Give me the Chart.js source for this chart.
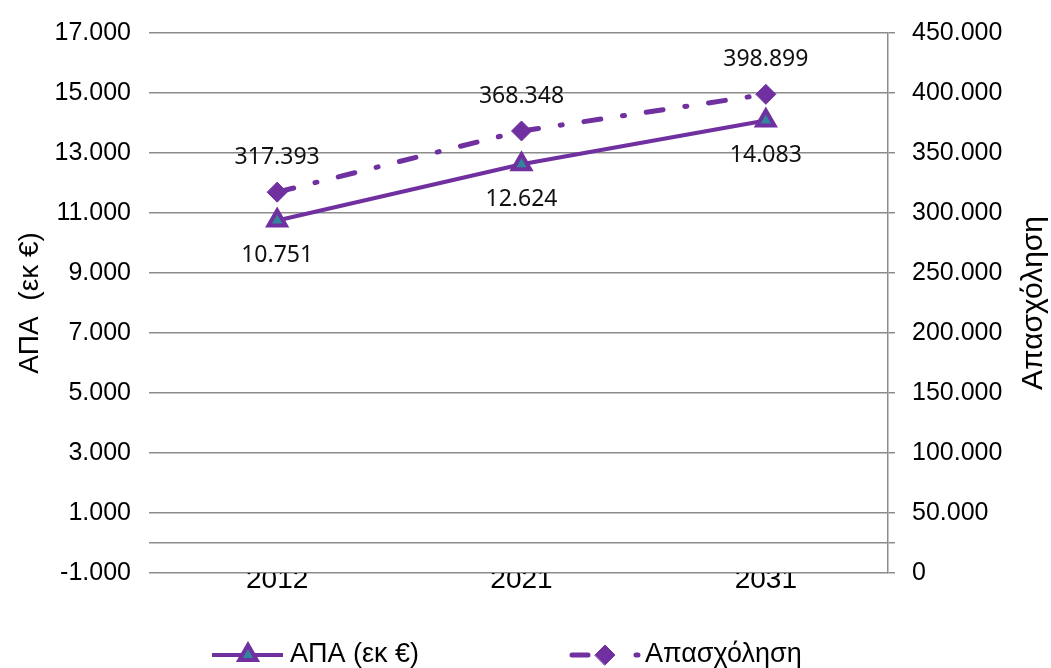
<!DOCTYPE html>
<html>
<head>
<meta charset="utf-8">
<script src="https://cdn.jsdelivr.net/npm/chart.js@4.4.1/dist/chart.umd.min.js"></script>
<style>
html, body { margin: 0; padding: 0; background: #fff; }
#wrap { width: 1051px; height: 668px; }
</style>
</head>
<body>
<div id="wrap"><canvas id="chart" width="1051" height="668"></canvas></div>
<script>
// Δεδομένα του διαγράμματος
const years = ['2012', '2021', '2031'];
const apaValues = [10751, 12624, 14083];
const employmentValues = [317393, 368348, 398899];

// Υποδιαιρέσεις αξόνων (το 0 στον αριστερό είναι η γραμμή του άξονα κατηγοριών)
const leftTicks = [-1000, 0, 1000, 3000, 5000, 7000, 9000, 11000, 13000, 15000, 17000];
const rightTicks = [0, 25000, 50000, 100000, 150000, 200000, 250000, 300000, 350000, 400000, 450000];
const rightTitle = 'Απασχόληση';

const purple = '#7030A0';
const teal = '#31859C';
const gridGray = '#8c8c8c';
const tickFont = { family: 'Liberation Sans', size: 25 };

// Μορφή αριθμών με τελεία ως διαχωριστικό χιλιάδων
function formatNumber(v) {
    const s = String(Math.abs(Math.round(v))).replace(/\B(?=(\d{3})+(?!\d))/g, '.');
    return v < 0 ? '-' + s : s;
}

// Ετικέτες τιμών πάνω/κάτω από τα σημεία
const valueLabels = {
    id: 'valueLabels',
    afterDatasetsDraw(chart) {
        const ctx = chart.ctx;
        ctx.save();
        ctx.font = '23px "Noto Sans"';
        ctx.fillStyle = '#111';
        ctx.textAlign = 'center';
        ctx.textBaseline = 'middle';
        chart.data.datasets.forEach((ds, i) => {
            const meta = chart.getDatasetMeta(i);
            const offset = i === 0 ? 35 : -35;
            meta.data.forEach((pt, j) => {
                ctx.fillText(formatNumber(ds.data[j]), pt.x, pt.y + offset);
            });
        });
        ctx.restore();
    }
};

// Τίτλος δεξιού άξονα, γραμμένος από κάτω προς τα πάνω
const rightAxisTitle = {
    id: 'rightAxisTitle',
    afterDraw(chart) {
        const ctx = chart.ctx;
        const area = chart.chartArea;
        ctx.save();
        ctx.translate(1034, (area.top + area.bottom) / 2);
        ctx.rotate(-Math.PI / 2);
        ctx.font = '30px "Liberation Sans"';
        ctx.fillStyle = '#000';
        ctx.textAlign = 'center';
        ctx.textBaseline = 'middle';
        ctx.fillText(rightTitle, 0, 0);
        ctx.restore();
    }
};

// Υπόμνημα στο κάτω μέρος
const bottomLegend = {
    id: 'bottomLegend',
    afterDraw(chart) {
        const ctx = chart.ctx;
        const y = 655;
        const ds0 = chart.data.datasets[0];
        const ds1 = chart.data.datasets[1];
        ctx.save();

        // ΑΠΑ: συνεχής γραμμή με τρίγωνο
        ctx.strokeStyle = purple;
        ctx.lineWidth = 4;
        ctx.beginPath();
        ctx.moveTo(212, y);
        ctx.lineTo(283, y);
        ctx.stroke();
        ctx.fillStyle = ds0.pointBackgroundColor;
        ctx.strokeStyle = ds0.pointBorderColor;
        ctx.lineWidth = ds0.pointBorderWidth;
        Chart.helpers.drawPoint(ctx, {
            pointStyle: ds0.pointStyle, radius: ds0.pointRadius, rotation: 0,
            borderWidth: ds0.pointBorderWidth
        }, 248, y);

        // Απασχόληση: παύλα, ρόμβος, τελεία
        ctx.strokeStyle = purple;
        ctx.lineCap = 'round';
        ctx.lineWidth = 5;
        ctx.beginPath();
        ctx.moveTo(572, y);
        ctx.lineTo(588, y);
        ctx.moveTo(636, y);
        ctx.lineTo(638, y);
        ctx.stroke();
        ctx.fillStyle = ds1.pointBackgroundColor;
        ctx.strokeStyle = ds1.pointBorderColor;
        ctx.lineWidth = ds1.pointBorderWidth;
        Chart.helpers.drawPoint(ctx, {
            pointStyle: ds1.pointStyle, radius: ds1.pointRadius, rotation: 0,
            borderWidth: ds1.pointBorderWidth
        }, 605, y);

        ctx.fillStyle = '#000';
        ctx.font = '27px "Liberation Sans"';
        ctx.textAlign = 'left';
        ctx.textBaseline = 'middle';
        ctx.fillText(ds0.label, 290, y);
        ctx.fillText(ds1.label, 645, y);
        ctx.restore();
    }
};

new Chart(document.getElementById('chart'), {
    type: 'line',
    data: {
        labels: years,
        datasets: [{
            label: 'ΑΠΑ (εκ €)',
            data: apaValues,
            yAxisID: 'y',
            borderColor: purple,
            borderWidth: 4,
            pointStyle: 'triangle',
            pointRadius: 10,
            pointBackgroundColor: teal,
            pointBorderColor: purple,
            pointBorderWidth: 4,
            tension: 0
        }, {
            label: 'Απασχόληση',
            data: employmentValues,
            yAxisID: 'y1',
            borderColor: purple,
            borderWidth: 5,
            borderDash: [17, 22, 2, 22],
            borderCapStyle: 'round',
            pointStyle: 'rectRot',
            pointRadius: 10,
            pointBackgroundColor: purple,
            pointBorderColor: purple,
            pointBorderWidth: 1,
            tension: 0
        }]
    },
    options: {
        responsive: false,
        animation: false,
        devicePixelRatio: 1,
        layout: { padding: { top: 30, bottom: 71, left: 0, right: 0 } },
        plugins: {
            legend: { display: false },
            tooltip: { enabled: false }
        },
        scales: {
            x: {
                offset: true,
                grid: { display: false, drawTicks: false },
                border: { display: false },
                ticks: { font: { family: 'Liberation Sans', size: 28 }, color: '#000', padding: -10 },
                afterFit: function(s) { s.height = 24; }
            },
            y: {
                position: 'left',
                min: -1000,
                max: 17000,
                afterBuildTicks: function(s) { s.ticks = leftTicks.map(v => ({ value: v })); },
                ticks: {
                    font: tickFont,
                    color: '#000',
                    padding: 18,
                    callback: function(value) { return value === 0 ? '' : formatNumber(value); }
                },
                grid: { color: gridGray, lineWidth: 1.5, tickLength: 6 },
                border: { display: false },
                title: {
                    display: true,
                    text: 'ΑΠΑ  (εκ €)',
                    color: '#000',
                    font: { family: 'Liberation Sans', size: 28 },
                    padding: { top: 13, bottom: 0 }
                },
                afterFit: function(s) { s.width = 155; }
            },
            y1: {
                position: 'right',
                min: 0,
                max: 450000,
                afterBuildTicks: function(s) { s.ticks = rightTicks.map(v => ({ value: v })); },
                ticks: {
                    font: tickFont,
                    color: '#000',
                    padding: 17,
                    callback: function(value) { return value === 25000 ? '' : formatNumber(value); }
                },
                grid: { drawOnChartArea: false, color: gridGray, lineWidth: 1.5, tickLength: 7 },
                border: { display: true, color: gridGray, width: 1.5 },
                afterFit: function(s) { s.width = 163; }
            }
        }
    },
    plugins: [valueLabels, rightAxisTitle, bottomLegend]
});
</script>
</body>
</html>
